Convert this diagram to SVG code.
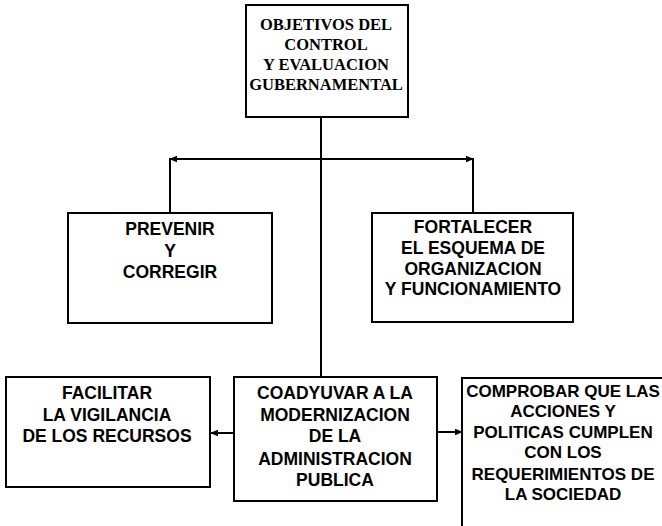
<svg xmlns="http://www.w3.org/2000/svg" width="662" height="526" viewBox="0 0 662 526">
<style>
.box{fill:#fff;stroke:#000;stroke-width:2}
.ln{fill:none;stroke:#000;stroke-width:2}
.t{font-family:"Liberation Sans",Arial,sans-serif;font-weight:bold;font-size:17.5px;text-anchor:middle;fill:#000}
.c{font-size:17px}
.s{font-family:"Liberation Serif","Times New Roman",serif;font-weight:bold;font-size:16.5px;text-anchor:middle;fill:#000}
</style>
<defs>
<marker id="ah" markerWidth="8" markerHeight="8" refX="7" refY="4" orient="auto" markerUnits="userSpaceOnUse">
<path d="M0,0.8 L8,4 L0,7.2 Z" fill="#000"/>
</marker>
</defs>
<rect width="662" height="526" fill="#fff"/>
<g id="connectors">
<line class="ln" x1="321" y1="117" x2="321" y2="377"/>
<path class="ln" d="M321,159 H170" marker-end="url(#ah)"/>
<path class="ln" d="M321,159 H473" marker-end="url(#ah)"/>
<line class="ln" x1="170" y1="158" x2="170" y2="213"/>
<line class="ln" x1="473" y1="158" x2="473" y2="213"/>
<path class="ln" d="M234,433 H211" marker-end="url(#ah)"/>
<path class="ln" d="M437,432 H462" marker-end="url(#ah)"/>
</g>
<g id="objetivos">
<rect class="box" x="246" y="5" width="162" height="112"/>
<text class="s" x="326" y="30">OBJETIVOS DEL</text>
<text class="s" x="326" y="50">CONTROL</text>
<text class="s" x="326" y="70">Y EVALUACION</text>
<text class="s" x="326" y="90">GUBERNAMENTAL</text>
</g>
<g id="prevenir">
<rect class="box" x="68" y="213" width="204" height="110"/>
<text class="t" x="170" y="235">PREVENIR</text>
<text class="t" x="170" y="257">Y</text>
<text class="t" x="170" y="278">CORREGIR</text>
</g>
<g id="fortalecer">
<rect class="box" x="372" y="213" width="201" height="109"/>
<text class="t" x="473" y="233">FORTALECER</text>
<text class="t" x="473" y="254">EL ESQUEMA DE</text>
<text class="t" x="473" y="275">ORGANIZACION</text>
<text class="t" x="473" y="295">Y FUNCIONAMIENTO</text>
</g>
<g id="facilitar">
<rect class="box" x="6" y="377" width="204" height="110"/>
<text class="t" x="107" y="399">FACILITAR</text>
<text class="t" x="107" y="421">LA VIGILANCIA</text>
<text class="t" x="107" y="442">DE LOS RECURSOS</text>
</g>
<g id="coadyuvar">
<rect class="box" x="234" y="377" width="203" height="124"/>
<text class="t" x="335" y="399">COADYUVAR A LA</text>
<text class="t" x="335" y="421">MODERNIZACION</text>
<text class="t" x="335" y="442">DE LA</text>
<text class="t" x="335" y="465">ADMINISTRACION</text>
<text class="t" x="335" y="486">PUBLICA</text>
</g>
<g id="comprobar">
<rect class="box" x="462" y="378" width="220" height="170"/>
<text class="t c" x="563" y="397">COMPROBAR QUE LAS</text>
<text class="t c" x="563" y="417">ACCIONES Y</text>
<text class="t c" x="563" y="438">POLITICAS CUMPLEN</text>
<text class="t c" x="563" y="458">CON LOS</text>
<text class="t c" x="563" y="480">REQUERIMIENTOS DE</text>
<text class="t c" x="563" y="500">LA SOCIEDAD</text>
</g>
</svg>
